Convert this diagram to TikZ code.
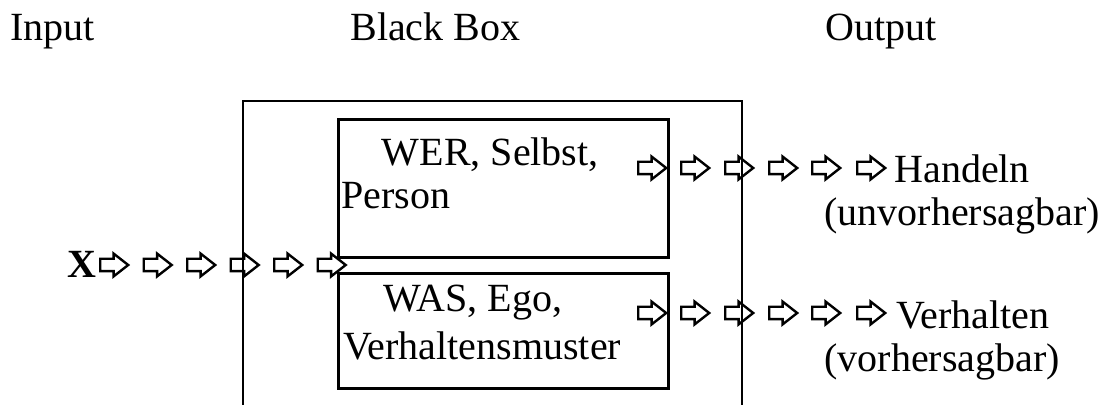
\documentclass[tikz,border=0pt]{standalone}
\usepackage{fontspec}
\setmainfont{Liberation Serif}
\usetikzlibrary{positioning}
\usetikzlibrary{shapes.arrows}
\tikzstyle{txt} = [inner sep=0pt, anchor=base west, font=\fontsize{20}{24}\selectfont]
\tikzstyle{hollow} = [single arrow, draw, line width=1.2pt, inner xsep=0pt, inner ysep=2.5pt, minimum height=14pt, minimum width=10.2pt, single arrow head extend=2.6pt, single arrow tip angle=76, anchor=tail]
\tikzstyle{innerbox} = [draw, line width=1.5pt, inner sep=0pt, minimum width=165pt, anchor=north west]

\begin{document}
\begin{tikzpicture}[x=0.5pt, y=-0.5pt]
        \useasboundingbox (0,0) rectangle (1104,405);
        \node[txt] (input) at (10,41) {Input};
        \node[txt] (blackbox) at (350,41) {Black Box};
        \node[txt] (output) at (825,41) {Output};
        \draw[line width=1.35pt] (243,405) -- (243,101) -- (742,101) -- (742,405);
        \node[innerbox, minimum height=69pt] (wer) at (337,118) {};
        \node[innerbox, minimum height=57.5pt] (was) at (337,272) {};
        \node[txt] (wer1) at (381.5,166) {WER, Selbst,};
        \node[txt] (wer2) at (341,208.6) {Person};
        \node[txt] (was1) at (383,312) {WAS, Ego,};
        \node[txt] (was2) at (343,360) {Verhaltensmuster};
        \node[txt, font=\fontsize{20}{24}\selectfont\bfseries] (x) at (67,278) {X};
        \foreach \ax [count=\i] in {98,141.5,185,228.5,272,315.5}
                \node[hollow] (in\i) at (\ax+1,265) {};
        \foreach \ax [count=\i] in {636,679,723,767,810,855} {
                \node[hollow] (up\i) at (\ax+1,168) {};
                \node[hollow] (dn\i) at (\ax+1,313) {};
        }
        \node[txt] (handeln) at (894,183) {Handeln};
        \node[txt] (unvorh) at (824,226) {(unvorhersagbar)};
        \node[txt] (verhalten) at (896,328.5) {Verhalten};
        \node[txt] (vorh) at (824,372) {(vorhersagbar)};

    \end{tikzpicture}
\end{document}
